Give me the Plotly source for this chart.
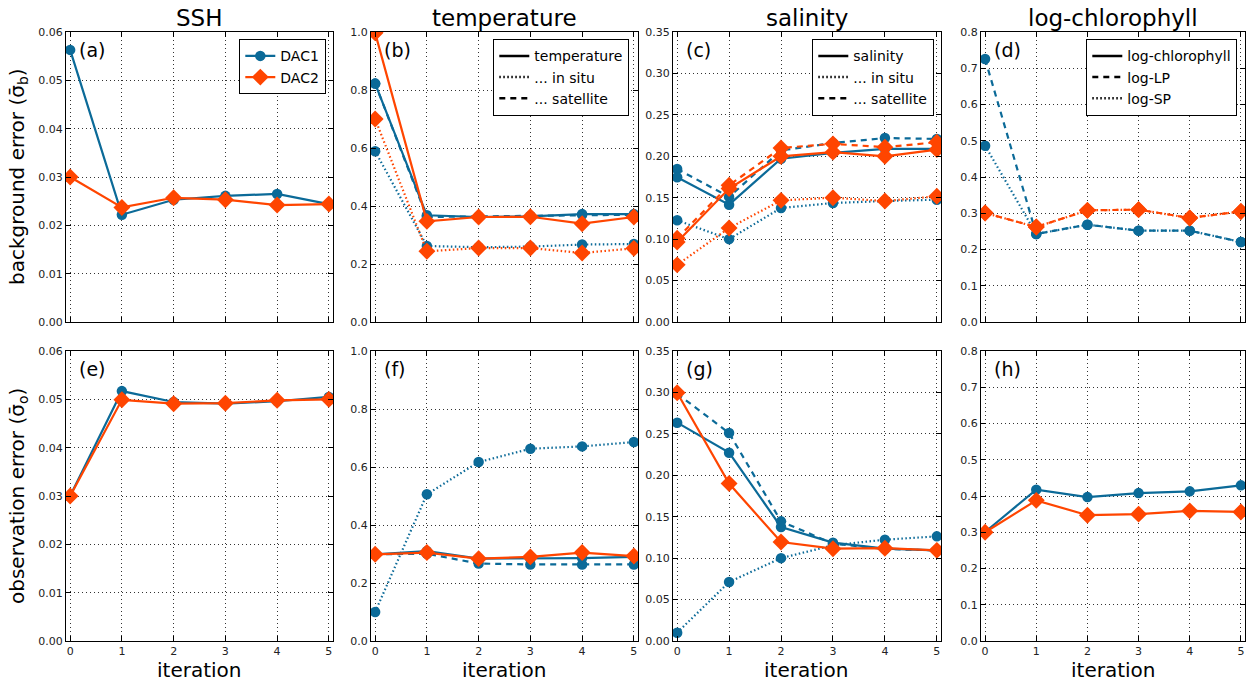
import plotly.graph_objects as go
from plotly.subplots import make_subplots

iters = [0, 1, 2, 3, 4, 5]

# (a) SSH background error
ssh_bg_dac1 = [0.0563, 0.0222, 0.0253, 0.0261, 0.0265, 0.0244]
ssh_bg_dac2 = [0.0300, 0.0237, 0.0257, 0.0253, 0.0242, 0.0244]
# (b) temperature background error
temp_bg_dac1 = [0.822, 0.368, 0.362, 0.364, 0.372, 0.372]
temp_bg_sat_dac1 = [0.822, 0.362, 0.364, 0.366, 0.370, 0.370]
temp_bg_insitu_dac1 = [0.589, 0.262, 0.258, 0.260, 0.267, 0.269]
temp_bg_dac2 = [0.997, 0.347, 0.362, 0.363, 0.339, 0.362]
temp_bg_insitu_dac2 = [0.700, 0.244, 0.255, 0.255, 0.238, 0.254]
# (c) salinity background error
sal_bg_dac1 = [0.1746, 0.1416, 0.1970, 0.2040, 0.2090, 0.2090]
sal_bg_sat_dac1 = [0.1847, 0.1510, 0.2070, 0.2160, 0.2220, 0.2210]
sal_bg_insitu_dac1 = [0.1227, 0.1000, 0.1376, 0.1436, 0.1460, 0.1476]
sal_bg_dac2 = [0.0966, 0.1610, 0.2000, 0.2050, 0.2000, 0.2080]
sal_bg_sat_dac2 = [0.1010, 0.1650, 0.2100, 0.2150, 0.2110, 0.2170]
sal_bg_insitu_dac2 = [0.0690, 0.1134, 0.1468, 0.1500, 0.1460, 0.1517]
# (d) log-chlorophyll background error
chl_bg_lp_dac1 = [0.7255, 0.2428, 0.2685, 0.2520, 0.2520, 0.2207]
chl_bg_sp_dac1 = [0.4864, 0.2428, 0.2685, 0.2520, 0.2520, 0.2207]
chl_bg_lp_dac2 = [0.3007, 0.2620, 0.3080, 0.3100, 0.2870, 0.3050]
chl_bg_sp_dac2 = [0.3007, 0.2620, 0.3080, 0.3100, 0.2870, 0.3050]
# (e) SSH observation error
ssh_ob_dac1 = [0.0300, 0.0517, 0.04945, 0.0491, 0.0496, 0.0505]
ssh_ob_dac2 = [0.0300, 0.0499, 0.0491, 0.0492, 0.0498, 0.0500]
# (f) temperature observation error
temp_ob_dac1 = [0.299, 0.310, 0.284, 0.284, 0.286, 0.290]
temp_ob_sat_dac1 = [0.299, 0.301, 0.267, 0.264, 0.264, 0.264]
temp_ob_insitu_dac1 = [0.100, 0.506, 0.617, 0.663, 0.671, 0.686]
temp_ob_dac2 = [0.299, 0.305, 0.284, 0.290, 0.305, 0.293]
# (g) salinity observation error
sal_ob_dac1 = [0.2635, 0.2273, 0.1376, 0.1187, 0.1114, 0.1094]
sal_ob_sat_dac1 = [0.2985, 0.2510, 0.1444, 0.1175, 0.1110, 0.1094]
sal_ob_insitu_dac1 = [0.0100, 0.0712, 0.1000, 0.1155, 0.1223, 0.1263]
sal_ob_dac2 = [0.2997, 0.1900, 0.1195, 0.1114, 0.1120, 0.1094]
# (h) log-chlorophyll observation error
chl_ob_dac1 = [0.3007, 0.4175, 0.3970, 0.4080, 0.4128, 0.4294]
chl_ob_dac2 = [0.3000, 0.3880, 0.3470, 0.3500, 0.3590, 0.3560]

col_titles = ["SSH", "temperature", "salinity", "log-chlorophyll"]
panel_labels = ["(a)", "(b)", "(c)", "(d)", "(e)", "(f)", "(g)", "(h)"]
y_ranges = [0.06, 1.0, 0.35, 0.8]
y_dticks = [0.01, 0.2, 0.05, 0.1]
y_formats = [".2f", ".1f", ".2f", ".1f"]

BLUE = "#0b6a98"
ORANGE = "#ff4500"
SOLID = "solid"
DOT = "1.5px,2.5px"
DASH = "6px,5px"

# the page body margin is removed in post_script, so the figure fills the window
W, H = 1253, 685
col_px = [(66, 333), (371, 638), (673, 941), (981, 1245)]
row_px = [(32, 322), (351, 641)]


def px_x(v):
    return v / W


def px_y(v):
    return 1 - v / H


fig = make_subplots(rows=2, cols=4)


def add(row, col, y, color, dash, dac, name=None, legend=None):
    sym = "circle" if dac == 1 else "diamond"
    size = 10.5 if dac == 1 else 13
    fig.add_trace(go.Scatter(
        x=iters, y=y, mode="lines+markers",
        line=dict(color=color, width=2.2, dash=dash),
        marker=dict(symbol=sym, size=size, color=color, line=dict(width=0)),
        name=name if name else "", showlegend=name is not None,
        legend=legend if legend else "legend", hoverinfo="x+y"), row=row, col=col)


# panel a
add(1, 1, ssh_bg_dac1, BLUE, SOLID, 1, "DAC1", "legend")
add(1, 1, ssh_bg_dac2, ORANGE, SOLID, 2, "DAC2", "legend")
# panel b
add(1, 2, temp_bg_insitu_dac1, BLUE, DOT, 1)
add(1, 2, temp_bg_sat_dac1, BLUE, DASH, 1)
add(1, 2, temp_bg_dac1, BLUE, SOLID, 1)
add(1, 2, temp_bg_insitu_dac2, ORANGE, DOT, 2)
add(1, 2, temp_bg_dac2, ORANGE, SOLID, 2)
# panel c
add(1, 3, sal_bg_insitu_dac1, BLUE, DOT, 1)
add(1, 3, sal_bg_sat_dac1, BLUE, DASH, 1)
add(1, 3, sal_bg_dac1, BLUE, SOLID, 1)
add(1, 3, sal_bg_insitu_dac2, ORANGE, DOT, 2)
add(1, 3, sal_bg_sat_dac2, ORANGE, DASH, 2)
add(1, 3, sal_bg_dac2, ORANGE, SOLID, 2)
# panel d
add(1, 4, chl_bg_lp_dac1, BLUE, DASH, 1)
add(1, 4, chl_bg_sp_dac1, BLUE, DOT, 1)
add(1, 4, chl_bg_lp_dac2, ORANGE, DASH, 2)
add(1, 4, chl_bg_sp_dac2, ORANGE, DOT, 2)
# panel e
add(2, 1, ssh_ob_dac1, BLUE, SOLID, 1)
add(2, 1, ssh_ob_dac2, ORANGE, SOLID, 2)
# panel f
add(2, 2, temp_ob_insitu_dac1, BLUE, DOT, 1)
add(2, 2, temp_ob_sat_dac1, BLUE, DASH, 1)
add(2, 2, temp_ob_dac1, BLUE, SOLID, 1)
add(2, 2, temp_ob_dac2, ORANGE, SOLID, 2)
# panel g
add(2, 3, sal_ob_insitu_dac1, BLUE, DOT, 1)
add(2, 3, sal_ob_sat_dac1, BLUE, DASH, 1)
add(2, 3, sal_ob_dac1, BLUE, SOLID, 1)
add(2, 3, sal_ob_dac2, ORANGE, SOLID, 2)
# panel h
add(2, 4, chl_ob_dac1, BLUE, SOLID, 1)
add(2, 4, chl_ob_dac2, ORANGE, SOLID, 2)

# style legends (black line samples)
style_legends = [
    ("legend2", 2, ["temperature", "... in situ", "... satellite"], [SOLID, DOT, DASH]),
    ("legend3", 3, ["salinity", "... in situ", "... satellite"], [SOLID, DOT, DASH]),
    ("legend4", 4, ["log-chlorophyll", "log-LP", "log-SP"], [SOLID, DASH, DOT]),
]
for lg, col, names, dashes in style_legends:
    for nm, ds in zip(names, dashes):
        fig.add_trace(go.Scatter(x=[-10, -9], y=[-10, -9], mode="lines",
                                 line=dict(color="black", width=2.5, dash=ds),
                                 name=nm, showlegend=True, legend=lg), row=1, col=col)

font = "DejaVu Sans, Liberation Sans, sans-serif"
legend_px = [(326, 39), (629, 39), (934, 39), (1237, 39)]
leg_common = dict(bgcolor="white", bordercolor="black", borderwidth=1.3,
                  font=dict(family=font, size=14, color="black"),
                  xanchor="right", yanchor="top", tracegroupgap=0, itemwidth=30)
layout_legends = {}
for i, key in enumerate(["legend", "legend2", "legend3", "legend4"]):
    xp, yp = legend_px[i]
    layout_legends[key] = dict(x=px_x(xp), y=px_y(yp), **leg_common)

fig.update_layout(width=W, height=H, margin=dict(l=0, r=0, t=0, b=0, autoexpand=False),
                  paper_bgcolor="white", plot_bgcolor="white",
                  font=dict(family=font, color="black"), **layout_legends)

annotations = []
for r in range(2):
    for c in range(4):
        idx = r * 4 + c + 1
        xa = "xaxis" if idx == 1 else f"xaxis{idx}"
        ya = "yaxis" if idx == 1 else f"yaxis{idx}"
        x0, x1 = col_px[c]
        y0, y1 = row_px[r]
        fig.layout[xa].update(
            domain=[px_x(x0), px_x(x1)], range=[-0.08, 5.08], automargin=False,
            tickmode="array", tickvals=iters, ticktext=[str(i) for i in iters],
            showticklabels=(r == 1), ticks="inside", ticklen=5, tickwidth=1,
            tickcolor="black", showline=True, linecolor="black", linewidth=1.3,
            mirror="ticks", showgrid=True, gridcolor="#333333", gridwidth=1,
            griddash="1px,3px", zeroline=False,
            tickfont=dict(family=font, size=11, color="#222222"))
        fig.layout[ya].update(
            domain=[px_y(y1), px_y(y0)], range=[0, y_ranges[c]], automargin=False,
            dtick=y_dticks[c], tick0=0, tickformat=y_formats[c],
            ticks="inside", ticklen=5, tickwidth=1, tickcolor="black",
            showline=True, linecolor="black", linewidth=1.3, mirror="ticks",
            showgrid=True, gridcolor="#333333", gridwidth=1, griddash="1px,3px",
            zeroline=False, tickfont=dict(family=font, size=11, color="#222222"))
        annotations.append(dict(text=panel_labels[idx - 1], xref="paper", yref="paper",
                                x=px_x(x0 + 11), y=px_y(y0 + 18),
                                xanchor="left", yanchor="middle", showarrow=False,
                                font=dict(family=font, size=19, color="black")))

for c in range(4):
    x0, x1 = col_px[c]
    annotations.append(dict(text=col_titles[c], xref="paper", yref="paper",
                            x=px_x((x0 + x1) / 2), y=px_y(18), xanchor="center",
                            yanchor="middle", showarrow=False,
                            font=dict(family=font, size=23, color="black")))
    annotations.append(dict(text="iteration", xref="paper", yref="paper",
                            x=px_x((x0 + x1) / 2), y=px_y(670), xanchor="center",
                            yanchor="middle", showarrow=False,
                            font=dict(family=font, size=20, color="black")))

annotations.append(dict(text="background error (σ\u0304<sub>b</sub>)", xref="paper", yref="paper",
                        x=px_x(18), y=px_y(177), textangle=-90, xanchor="center",
                        yanchor="middle", showarrow=False,
                        font=dict(family=font, size=20, color="black")))
annotations.append(dict(text="observation error (σ\u0304<sub>o</sub>)", xref="paper", yref="paper",
                        x=px_x(18), y=px_y(496), textangle=-90, xanchor="center",
                        yanchor="middle", showarrow=False,
                        font=dict(family=font, size=20, color="black")))

fig.update_layout(annotations=annotations)
fig.write_html("out.html", config={"displayModeBar": False},
               post_script="document.body.style.margin='0px';")
